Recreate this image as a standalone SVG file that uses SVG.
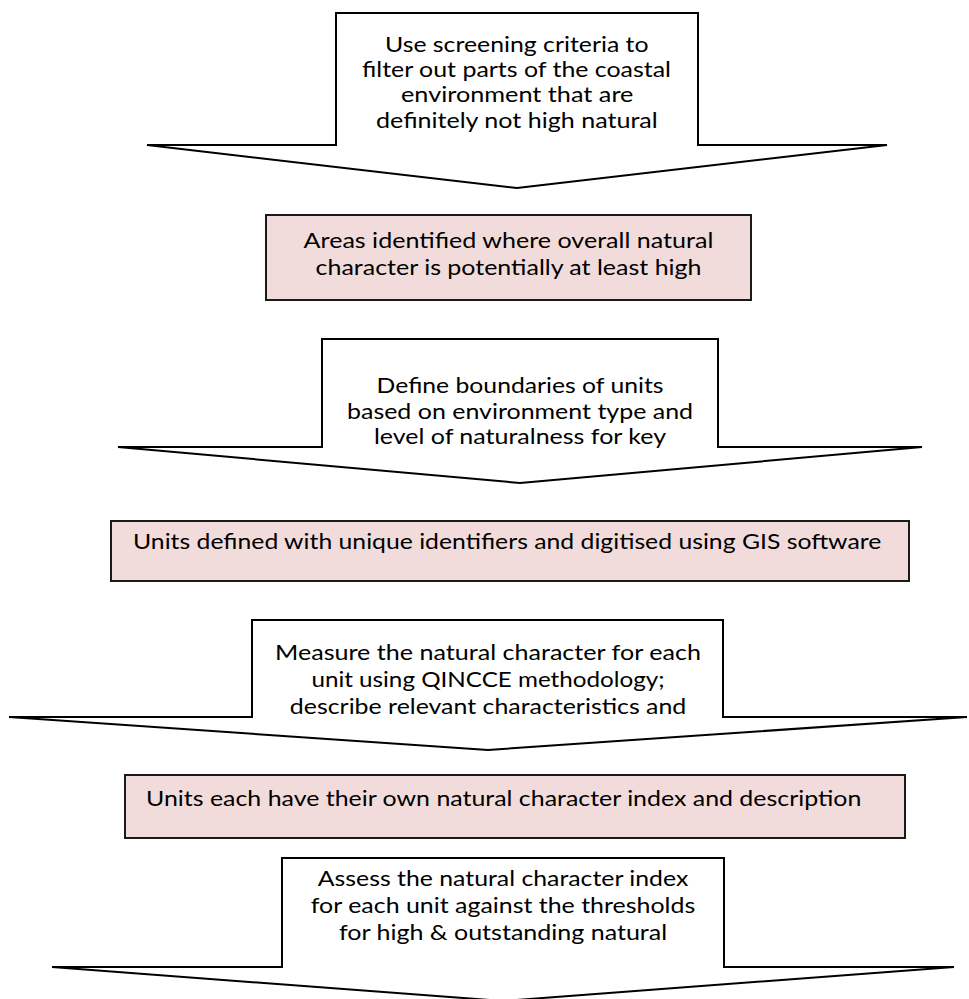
<svg xmlns="http://www.w3.org/2000/svg" width="969" height="999" viewBox="0 0 969 999">
<style>
.arrow{fill:#ffffff;stroke:#000000;stroke-width:2;stroke-linejoin:miter}
.box{fill:#F2DCDB;stroke:#1a1a1a;stroke-width:2}
text{font-family:"Lato","Liberation Sans",sans-serif;font-size:22px;fill:#000000}
</style>
<rect width="969" height="999" fill="#ffffff"/>
<g id="step1">
<path class="arrow" d="M147,145 L336,145 L336,13 L698,13 L698,145 L887,145 L517,188 Z"/>
<text x="385" y="52" textLength="263.5" lengthAdjust="spacingAndGlyphs">Use screening criteria to</text>
<text x="362" y="77" textLength="309" lengthAdjust="spacingAndGlyphs">filter out parts of the coastal</text>
<text x="401" y="102" textLength="232.4" lengthAdjust="spacingAndGlyphs">environment that are</text>
<text x="376" y="128" textLength="281.7" lengthAdjust="spacingAndGlyphs">definitely not high natural</text>
</g>
<g id="result1">
<rect class="box" x="266" y="215" width="485" height="85"/>
<text x="303.6" y="248" textLength="409.8" lengthAdjust="spacingAndGlyphs">Areas identified where overall natural</text>
<text x="315.6" y="275" textLength="385.9" lengthAdjust="spacingAndGlyphs">character is potentially at least high</text>
</g>
<g id="step2">
<path class="arrow" d="M118,447 L322,447 L322,339 L718,339 L718,447 L922,447 L520,483 Z"/>
<text x="376.6" y="393" textLength="286.9" lengthAdjust="spacingAndGlyphs">Define boundaries of units</text>
<text x="347" y="419" textLength="346.1" lengthAdjust="spacingAndGlyphs">based on environment type and</text>
<text x="373.9" y="444" textLength="292.2" lengthAdjust="spacingAndGlyphs">level of naturalness for key</text>
</g>
<g id="result2">
<rect class="box" x="111" y="521" width="798" height="60"/>
<text x="133" y="549" textLength="748.3" lengthAdjust="spacingAndGlyphs">Units defined with unique identifiers and digitised using GIS software</text>
</g>
<g id="step3">
<path class="arrow" d="M9,717 L252,717 L252,620 L723,620 L723,717 L967,717 L488,750 Z"/>
<text x="275" y="660" textLength="425.9" lengthAdjust="spacingAndGlyphs">Measure the natural character for each</text>
<text x="311.4" y="687" textLength="353.2" lengthAdjust="spacingAndGlyphs">unit using QINCCE methodology;</text>
<text x="289.8" y="714" textLength="396.5" lengthAdjust="spacingAndGlyphs">describe relevant characteristics and</text>
</g>
<g id="result3">
<rect class="box" x="125" y="775" width="780" height="63"/>
<text x="146" y="806" textLength="715.4" lengthAdjust="spacingAndGlyphs">Units each have their own natural character index and description</text>
</g>
<g id="step4">
<path class="arrow" d="M52,967 L282,967 L282,858 L724,858 L724,967 L954,967 L503,1001 Z"/>
<text x="317.8" y="886" textLength="370.5" lengthAdjust="spacingAndGlyphs">Assess the natural character index</text>
<text x="310.8" y="913" textLength="384.4" lengthAdjust="spacingAndGlyphs">for each unit against the thresholds</text>
<text x="338.9" y="940" textLength="328.2" lengthAdjust="spacingAndGlyphs">for high &amp; outstanding natural</text>
</g>
<g id="connectors"/>
</svg>
